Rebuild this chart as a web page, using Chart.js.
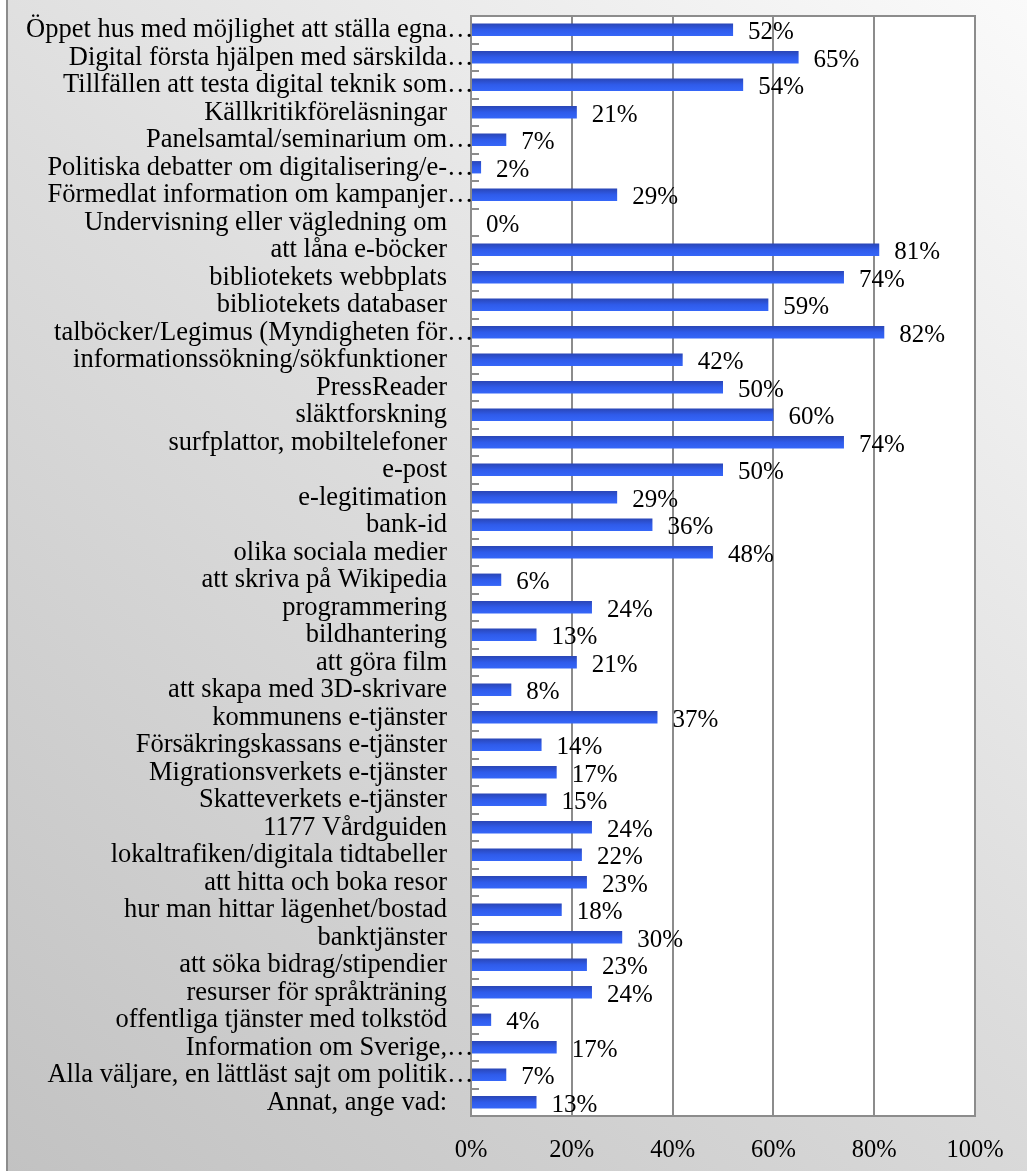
<!DOCTYPE html>
<html lang="sv">
<head>
<meta charset="utf-8">
<title>Digitala aktiviteter</title>
<script src="https://cdn.jsdelivr.net/npm/chart.js@4/dist/chart.umd.min.js"></script>
<style>
    html, body { margin: 0; padding: 0; background: #ffffff; }
    #wrap { width: 1027px; height: 1171px; position: relative; }
</style>
</head>
<body>
<div id="wrap"><canvas id="chart" width="1027" height="1171"></canvas></div>
<script>
// Categories, top to bottom
const categories = [
    'Öppet hus med möjlighet att ställa egna…',
    'Digital första hjälpen med särskilda…',
    'Tillfällen att testa digital teknik som…',
    'Källkritikföreläsningar',
    'Panelsamtal/seminarium om…',
    'Politiska debatter om digitalisering/e-…',
    'Förmedlat information om kampanjer…',
    'Undervisning eller vägledning om',
    'att låna e-böcker',
    'bibliotekets webbplats',
    'bibliotekets databaser',
    'talböcker/Legimus (Myndigheten för…',
    'informationssökning/sökfunktioner',
    'PressReader',
    'släktforskning',
    'surfplattor, mobiltelefoner',
    'e-post',
    'e-legitimation',
    'bank-id',
    'olika sociala medier',
    'att skriva på Wikipedia',
    'programmering',
    'bildhantering',
    'att göra film',
    'att skapa med 3D-skrivare',
    'kommunens e-tjänster',
    'Försäkringskassans e-tjänster',
    'Migrationsverkets e-tjänster',
    'Skatteverkets e-tjänster',
    '1177 Vårdguiden',
    'lokaltrafiken/digitala tidtabeller',
    'att hitta och boka resor',
    'hur man hittar lägenhet/bostad',
    'banktjänster',
    'att söka bidrag/stipendier',
    'resurser för språkträning',
    'offentliga tjänster med tolkstöd',
    'Information om Sverige,…',
    'Alla väljare, en lättläst sajt om politik…',
    'Annat, ange vad:'
];

// Share of libraries (%)
const percentValues = [
    52, 65, 54, 21, 7, 2, 29, 0, 81, 74,
    59, 82, 42, 50, 60, 74, 50, 29, 36, 48,
    6, 24, 13, 21, 8, 37, 14, 17, 15, 24,
    22, 23, 18, 30, 23, 24, 4, 17, 7, 13
];

// x axis ticks (%)
const xTicks = [0, 20, 40, 60, 80, 100];

const fontFamily = '"Liberation Serif", "Times New Roman", Times, serif';
const labelSize = 26.5;
const valueSize = 25;
const tickSize = 24.5;
const lineGray = '#8c8c8c';
const barPct = 0.45;

// Background, frame and plot area
const backdrop = {
    id: 'backdrop',
    beforeDraw(chart) {
        const { ctx, width, height, chartArea } = chart;
        ctx.save();
        ctx.fillStyle = '#ffffff';
        ctx.fillRect(0, 0, width, height);
        const g = ctx.createLinearGradient(width, 0, 0, height);
        g.addColorStop(0, '#fafafa');
        g.addColorStop(0.5, '#dcdcdc');
        g.addColorStop(1, '#c2c2c2');
        ctx.fillStyle = g;
        ctx.fillRect(8, 0, width - 8, height);
        ctx.fillStyle = '#8c8c8c';
        ctx.fillRect(6, 0, 2, height);
        ctx.fillStyle = '#ffffff';
        ctx.fillRect(chartArea.left, chartArea.top, chartArea.right - chartArea.left, chartArea.bottom - chartArea.top);
        ctx.restore();
    },
    afterDraw(chart) {
        const { ctx, chartArea } = chart;
        ctx.save();
        ctx.strokeStyle = lineGray;
        ctx.lineWidth = 2;
        ctx.strokeRect(chartArea.left, chartArea.top, chartArea.right - chartArea.left, chartArea.bottom - chartArea.top);
        ctx.restore();
    }
};

// Category labels (ellipsis hangs past the alignment edge) and short inner ticks
const categoryLabels = {
    id: 'categoryLabels',
    afterDraw(chart) {
        const { ctx, chartArea, scales } = chart;
        const y = scales.y;
        const step = (chartArea.bottom - chartArea.top) / categories.length;
        const edge = chartArea.left - 24;
        ctx.save();
        ctx.fillStyle = lineGray;
        for (let i = 0; i <= categories.length; i++) {
            const yy = Math.round(chartArea.top + i * step);
            ctx.fillRect(chartArea.left, yy - 1, 8, 2);
        }
        ctx.font = labelSize + 'px ' + fontFamily;
        ctx.fillStyle = '#000000';
        ctx.textBaseline = 'middle';
        categories.forEach(function(label, i) {
            const yc = y.getPixelForValue(i) + 0.5;
            let text = label;
            let tail = '';
            if (text.endsWith('…')) {
                text = text.slice(0, -1);
                tail = '…';
            }
            ctx.textAlign = 'right';
            ctx.fillText(text, edge, yc);
            if (tail) {
                ctx.textAlign = 'left';
                ctx.fillText(tail, edge, yc);
            }
        });
        ctx.restore();
    }
};

// Value labels after each bar
const valueLabels = {
    id: 'valueLabels',
    afterDatasetsDraw(chart) {
        const { ctx } = chart;
        const meta = chart.getDatasetMeta(0);
        ctx.save();
        ctx.font = valueSize + 'px ' + fontFamily;
        ctx.fillStyle = '#000000';
        ctx.textAlign = 'left';
        ctx.textBaseline = 'middle';
        meta.data.forEach(function(bar, i) {
            ctx.fillText(percentValues[i] + '%', bar.x + 15, bar.y + 3);
        });
        ctx.restore();
    }
};

function barFill(context) {
    const chart = context.chart;
    const { chartArea, scales } = chart;
    if (!chartArea || !scales.y) {
        return '#2f5df0';
    }
    const yc = scales.y.getPixelForValue(context.dataIndex);
    const h = (chartArea.bottom - chartArea.top) / categories.length * barPct;
    const g = chart.ctx.createLinearGradient(0, yc - h / 2, 0, yc + h / 2);
    g.addColorStop(0, '#2a46b6');
    g.addColorStop(0.5, '#2f5bea');
    g.addColorStop(1, '#3566f8');
    return g;
}

new Chart(document.getElementById('chart'), {
    type: 'bar',
    data: {
        labels: categories,
        datasets: [{
            data: percentValues,
            backgroundColor: barFill,
            borderWidth: 0,
            barPercentage: barPct,
            categoryPercentage: 1
        }]
    },
    options: {
        indexAxis: 'y',
        responsive: false,
        animation: false,
        layout: { padding: { top: 16, right: 52, bottom: 0, left: 0 } },
        plugins: {
            legend: { display: false },
            tooltip: { enabled: false }
        },
        scales: {
            x: {
                min: 0,
                max: 100,
                afterBuildTicks: function(scale) {
                    scale.ticks = xTicks.map(function(v) { return { value: v }; });
                },
                afterFit: function(scale) { scale.height = 55; },
                grid: { color: lineGray, lineWidth: 2, drawTicks: false },
                border: { display: false },
                ticks: {
                    padding: 20,
                    color: '#000000',
                    font: { family: fontFamily, size: tickSize },
                    callback: function(value) { return value + '%'; }
                }
            },
            y: {
                afterFit: function(scale) { scale.width = 471; },
                grid: { display: false },
                border: { display: false },
                ticks: { display: false }
            }
        }
    },
    plugins: [backdrop, categoryLabels, valueLabels]
});
</script>
</body>
</html>
